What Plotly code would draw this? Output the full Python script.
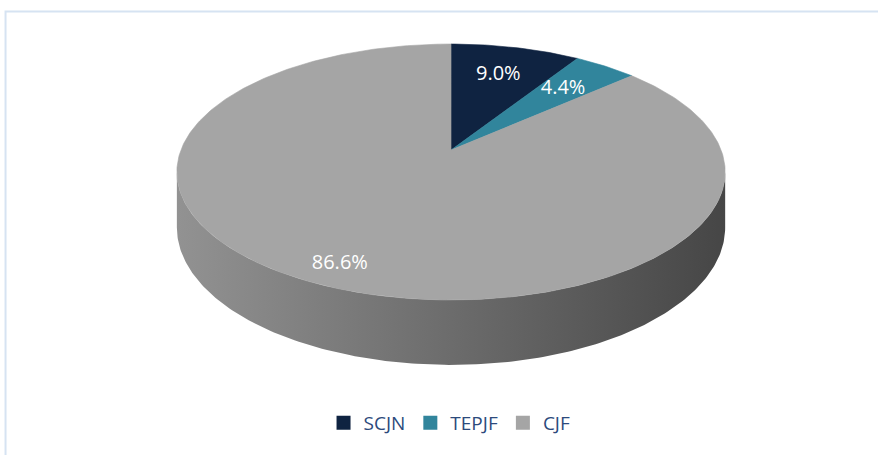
import numpy as np
import plotly.graph_objects as go

# datos
categorias = ["SCJN", "TEPJF", "CJF"]
valores = [9.0, 4.4, 86.6]
colores = ["#0f2341", "#31859c", "#a5a5a5"]

# proyeccion del "pastel 3D" (perspectiva sencilla)
K = 0.172      # perspectiva
RY = 0.46      # aplastamiento vertical
ALTO = 0.199   # grosor del disco


def proyectar(theta, r=1.0, bajar=0.0):
    X = r * np.sin(theta)
    Z = r * np.cos(theta)
    d = 1 + K * Z
    return X / d, (Z * RY - bajar) / d


def oscurecer(hexcol, f):
    h = hexcol.lstrip("#")
    rgb = [int(h[i:i + 2], 16) for i in (0, 2, 4)]
    return "rgb(%d,%d,%d)" % tuple(int(c * f) for c in rgb)


total = sum(valores)
fracs = np.array(valores) / total
fin = np.cumsum(fracs) * 2 * np.pi
ini = fin - fracs * 2 * np.pi

fig = go.Figure()

# lateral visible (entre las tangentes izquierda y derecha)
t_a = np.arccos(-K)
t_b = 2 * np.pi - t_a
for i in range(len(valores)):
    a, b = max(ini[i], t_a), min(fin[i], t_b)
    if a >= b:
        continue
    t = np.linspace(a, b, 200)
    xs, ys = proyectar(t)
    xb, yb = proyectar(t[::-1], bajar=ALTO)
    fig.add_trace(go.Scatter(
        x=np.concatenate([xs, xb]), y=np.concatenate([ys, yb]),
        mode="lines", fill="toself", line=dict(width=0),
        fillgradient=dict(type="horizontal", colorscale=[
            [0, oscurecer(colores[i], 0.89)],
            [0.5, oscurecer(colores[i], 0.66)],
            [1, oscurecer(colores[i], 0.43)]]),
        showlegend=False, hoverinfo="skip"))

# caras superiores
for i in range(len(valores)):
    t = np.linspace(ini[i], fin[i], max(20, int(400 * fracs[i])))
    xs, ys = proyectar(t)
    fig.add_trace(go.Scatter(
        x=np.concatenate([[0], xs, [0]]), y=np.concatenate([[0], ys, [0]]),
        mode="lines", fill="toself", fillcolor=colores[i],
        line=dict(width=0.6, color=colores[i]),
        showlegend=False, name=categorias[i], hoverinfo="name"))

# etiquetas de porcentaje
r_etq = [0.7, 0.7, 0.87]
medio = (ini + fin) / 2
lx, ly = [], []
for i in range(len(valores)):
    x, y = proyectar(medio[i], r=r_etq[i])
    lx.append(x)
    ly.append(y)
fig.add_trace(go.Scatter(
    x=lx, y=ly, mode="text",
    text=["%.1f%%" % (f * 100) for f in fracs],
    textfont=dict(family="Open Sans", size=20, color="white"),
    showlegend=False, hoverinfo="skip"))

# leyenda
for c, col in zip(categorias, colores):
    fig.add_trace(go.Scatter(
        x=[None], y=[None], mode="markers", name=c,
        marker=dict(symbol="square", size=14, color=col)))

fig.update_layout(
    width=878, height=455, autosize=False,
    margin=dict(l=0, r=0, t=0, b=0),
    paper_bgcolor="white", plot_bgcolor="white",
    xaxis=dict(range=[-1.670, 1.581], visible=False, fixedrange=True),
    yaxis=dict(range=[-1.1296, 0.5556], visible=False, fixedrange=True),
    legend=dict(orientation="h", x=0.512, xanchor="center", y=1 - 423 / 455, yanchor="middle",
                font=dict(family="Open Sans", size=19, color="#2c4a7c"),
                itemwidth=30, tracegroupgap=0),
    shapes=[dict(type="rect", xref="paper", yref="paper",
                 x0=0.0063, x1=1.05, y0=-0.05, y1=1 - 11.5 / 455,
                 line=dict(color="#d6e3f2", width=2), layer="below")],
)

# sin margen del body para que la figura ocupe toda la ventana
fig.write_html("out.html", config={"displayModeBar": False},
               post_script="document.body.style.margin='0';")
